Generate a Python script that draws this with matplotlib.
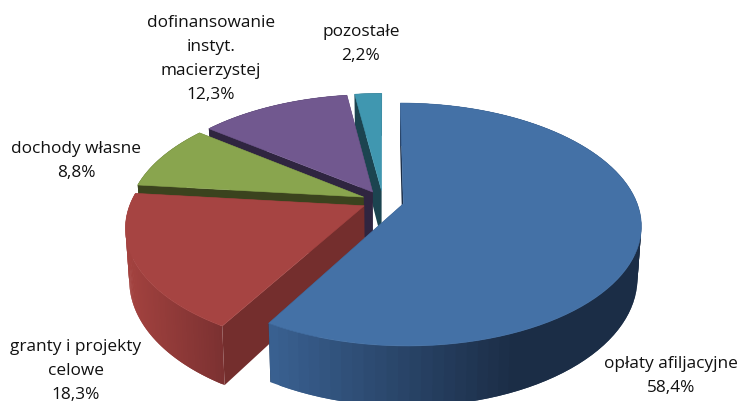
import numpy as np
import matplotlib
matplotlib.use('Agg')
import matplotlib.pyplot as plt
from matplotlib.colors import to_rgb
from matplotlib.patches import Polygon

plt.rcParams['font.family'] = ['Open Sans', 'DejaVu Sans']

labels = ['oplaty', 'granty', 'dochody', 'dofinansowanie', 'pozostale']
values = [58.4, 18.3, 8.8, 12.3, 2.2]
label_texts = ['opłaty afiljacyjne\n58,4%', 'granty i projekty\ncelowe\n18,3%', 'dochody własne\n8,8%',
               'dofinansowanie\ninstyt.\nmacierzystej\n12,3%', 'pozostałe\n2,2%']
label_pos = [(671, 376), (76, 371), (76, 161), (211, 59), (361, 44)]

top_colors = ['#4471a6', '#a64442', '#89a54e', '#71588f', '#4097b0']
side_colors = ['#1b2d46', '#742e2d', '#3b431e', '#2f2540', '#1c4450']
# wall gradient: colour at left end, colour at right end, x range in pixels
wall_grad = [('#3a6192', '#1b2d46', 272, 520), ('#a3423f', '#7b3131', 128, 225),
             ('#3b431e', '#3b431e', 0, 1), ('#2f2540', '#2f2540', 0, 1), ('#1c4450', '#1c4450', 0, 1)]

# pie geometry, perspective view
cx, cy = 383, 202
rx, ry = 233, 117
k = 0.17
height = 50
bottom_scale = 0.985
explode = 0.09


def project(u, v, z=0):
    den = 1 + k * v
    s = bottom_scale if z else 1
    x = cx + s * rx * u / den
    y = cy - ry * v / den + z * height / den
    return x, y


def arc(ang, off):
    return off[0] + np.sin(ang), off[1] + np.cos(ang)


def mix(c1, c2, t):
    a, b = np.array(to_rgb(c1)), np.array(to_rgb(c2))
    return tuple(a + (b - a) * np.clip(t, 0, 1))


def quad(ax, p1, p2, color):
    x1, y1 = project(*p1)
    x2, y2 = project(*p2)
    x3, y3 = project(*p2, z=1)
    x4, y4 = project(*p1, z=1)
    ax.add_patch(Polygon([(x1, y1), (x2, y2), (x3, y3), (x4, y4)], closed=True, fc=color, ec='none', lw=0))


fig = plt.figure(figsize=(7.42, 4.02), dpi=100)
ax = fig.add_axes([0, 0, 1, 1])
ax.set_xlim(0, 742)
ax.set_ylim(402, 0)
ax.axis('off')

fractions = np.array(values) / sum(values)
starts = np.concatenate([[0], np.cumsum(fractions)[:-1]]) * 2 * np.pi
ends = np.cumsum(fractions) * 2 * np.pi

# back slices first, blue one goes on top
for i in [4, 3, 2, 1, 0]:
    mid = (starts[i] + ends[i]) / 2
    off = (explode * np.sin(mid), explode * np.cos(mid))
    angs = np.linspace(starts[i], ends[i], 90)
    us, vs = arc(angs, off)

    quad(ax, off, (us[-1], vs[-1]), side_colors[i])
    quad(ax, off, (us[0], vs[0]), side_colors[i])

    # wall strips overlap by one step so no seams show
    c1, c2, x0, x1 = wall_grad[i]
    order = range(len(angs) - 1)
    if i == 0:
        order = reversed(order)
    for j in order:
        j2 = min(j + 2, len(angs) - 1) if i != 0 else max(j - 1, 0)
        j1 = j if i != 0 else j + 1
        xm = project(us[j], vs[j])[0]
        quad(ax, (us[j1], vs[j1]), (us[j2], vs[j2]), mix(c1, c2, (xm - x0) / (x1 - x0)))

    px, py = project(np.append(us, off[0]), np.append(vs, off[1]))
    ax.add_patch(Polygon(np.column_stack([px, py]), closed=True, fc=top_colors[i], ec=top_colors[i], lw=0.4))

for txt, pos in zip(label_texts, label_pos):
    ax.text(pos[0], pos[1], txt, ha='center', va='center', fontsize=12.4, color='#111111', linespacing=1.65)

fig.savefig('out.png', dpi=100)
plt.close()
